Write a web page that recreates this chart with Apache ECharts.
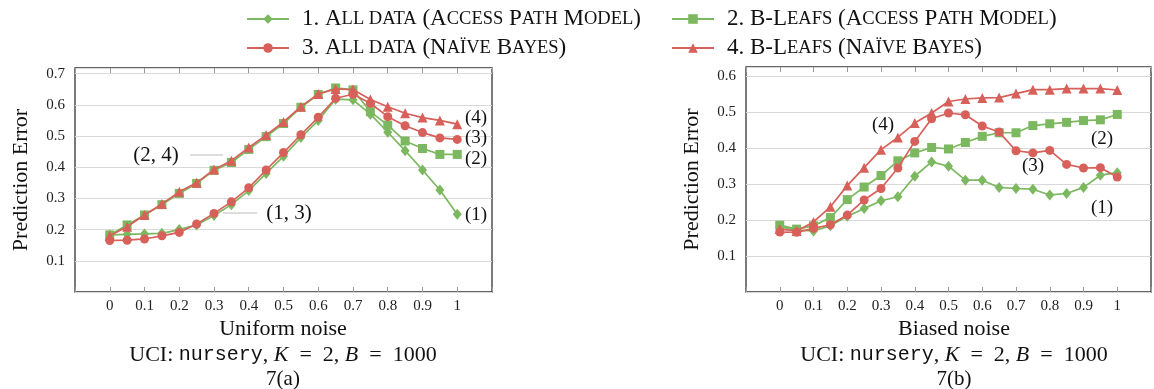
<!DOCTYPE html>
<html>
<head>
<meta charset="utf-8">
<script src="https://cdn.jsdelivr.net/npm/echarts@6/dist/echarts.min.js"></script>
<style>html,body{margin:0;padding:0;background:#fff}#c{width:1154px;height:389px}</style>
</head>
<body>
<div id="c"></div>
<script>
// ---- data ----
const noise = [0,0.05,0.1,0.15,0.2,0.25,0.3,0.35,0.4,0.45,0.5,0.55,0.6,0.65,0.7,0.75,0.8,0.85,0.9,0.95,1];
const seriesNames = ['1. All data (Access Path Model)','2. B-Leafs (Access Path Model)','3. All data (Naïve Bayes)','4. B-Leafs (Naïve Bayes)'];
// Fig 7(a) Uniform noise
const uniAllAPM  = [0.183,0.185,0.186,0.188,0.2,0.215,0.245,0.28,0.325,0.38,0.435,0.495,0.55,0.618,0.616,0.57,0.512,0.453,0.391,0.327,0.249];
const uniLeafAPM = [0.183,0.215,0.247,0.28,0.316,0.348,0.39,0.415,0.457,0.498,0.54,0.592,0.633,0.654,0.648,0.578,0.535,0.484,0.46,0.441,0.441];
const uniAllNB   = [0.165,0.166,0.17,0.18,0.191,0.218,0.252,0.289,0.334,0.391,0.447,0.504,0.56,0.621,0.634,0.605,0.562,0.533,0.511,0.494,0.489];
const uniLeafNB  = [0.18,0.209,0.247,0.282,0.321,0.35,0.393,0.421,0.463,0.503,0.545,0.594,0.635,0.651,0.649,0.617,0.594,0.573,0.559,0.55,0.538];
// Fig 7(b) Biased noise
const biaAllAPM  = [0.182,0.172,0.17,0.184,0.211,0.232,0.254,0.265,0.322,0.362,0.35,0.311,0.311,0.291,0.288,0.286,0.27,0.274,0.291,0.325,0.332];
const biaLeafAPM = [0.186,0.175,0.184,0.207,0.257,0.292,0.324,0.365,0.387,0.402,0.398,0.416,0.433,0.443,0.443,0.463,0.468,0.472,0.477,0.479,0.494];
const biaAllNB   = [0.167,0.166,0.177,0.187,0.214,0.256,0.288,0.345,0.419,0.482,0.498,0.493,0.462,0.445,0.393,0.387,0.394,0.355,0.345,0.346,0.32];
const biaLeafNB  = [0.175,0.17,0.195,0.237,0.296,0.346,0.396,0.43,0.47,0.498,0.53,0.537,0.54,0.541,0.552,0.563,0.563,0.566,0.566,0.566,0.562];
const xTicks = [0,0.1,0.2,0.3,0.4,0.5,0.6,0.7,0.8,0.9,1];

// ---- style ----
const GREEN = '#7cb85f', RED = '#d8605a';
const SERIF = 'Liberation Serif';
const styles = [
  {color: GREEN, symbol: 'diamond', size: [9, 11]},
  {color: GREEN, symbol: 'rect', size: 9},
  {color: RED, symbol: 'circle', size: 9},
  {color: RED, symbol: 'triangle', size: 10}
];
const legendText = {
  '1. All data (Access Path Model)': '{g|}1. A{s|LL DATA} (A{s|CCESS} P{s|ATH} M{s|ODEL})',
  '2. B-Leafs (Access Path Model)': '{g|}2. B-L{s|EAFS} (A{s|CCESS} P{s|ATH} M{s|ODEL})',
  '3. All data (Naïve Bayes)': '{g|}3. A{s|LL DATA} (N{s|AÏVE} B{s|AYES})',
  '4. B-Leafs (Naïve Bayes)': '{g|}4. B-L{s|EAFS} (N{s|AÏVE} B{s|AYES})'
};

const pair = arr => noise.map((x, i) => [x, arr[i]]);
function mkSeries(data, idx, axisIdx) {
  const s = styles[idx];
  return {
    name: seriesNames[idx], type: 'line', data: pair(data),
    xAxisIndex: axisIdx, yAxisIndex: axisIdx,
    symbol: s.symbol, symbolSize: s.size, showSymbol: true,
    lineStyle: {color: s.color, width: 1.7},
    itemStyle: {color: s.color},
    animation: false, z: 3 + idx
  };
}
const isTick = v => Math.abs(v * 10 - Math.round(v * 10)) < 1e-6;
function xAxisCfg(grid, pos, labels) {
  return {
    type: 'value', gridIndex: grid, position: pos, min: -0.1, max: 1.1, interval: 0.1,
    axisLine: {show: false},
    axisTick: {show: true, inside: true, length: 5, lineStyle: {color: '#999'}},
    axisLabel: {show: labels, margin: 7, fontFamily: SERIF, fontSize: 15, color: '#222',
      formatter: v => (v < -1e-6 || v > 1 + 1e-6 || !isTick(v)) ? '' : (Math.round(v * 10) / 10).toString()},
    splitLine: {show: false}
  };
}
function yAxisCfg(grid, max) {
  return {
    type: 'value', gridIndex: grid, min: 0, max: max, interval: 0.1,
    name: 'Prediction Error', nameLocation: 'middle', nameGap: 43,
    nameTextStyle: {fontFamily: SERIF, fontSize: 22, color: '#111'},
    axisLine: {show: false},
    axisTick: {show: false},
    axisLabel: {margin: 10, fontFamily: SERIF, fontSize: 15, color: '#222',
      formatter: v => (v < 1e-6 || !isTick(v)) ? '' : v.toFixed(1)},
    splitLine: {show: true, lineStyle: {color: '#d9d9d9', width: 1}}
  };
}
const legPos = [[246, 7], [671, 7], [246, 36], [671, 36]];
const legends = seriesNames.map((n, i) => ({
  data: [n], left: legPos[i][0], top: legPos[i][1], orient: 'horizontal',
  itemWidth: 42, itemHeight: 12, itemGap: 6, padding: 0,
  formatter: name => legendText[name],
  textStyle: {fontFamily: SERIF, fontSize: 23, lineHeight: 24, color: '#111',
    rich: {s: {fontFamily: SERIF, fontSize: 18.5, color: '#111'}, g: {width: 8}}}
}));

function txt(x, y, text, size, extra) {
  return Object.assign({type: 'text', x: x, y: y, style: {text: text, fontFamily: SERIF, fontSize: size || 18, fill: '#111', align: 'center', verticalAlign: 'middle'}, z: 10}, extra || {});
}
function caption(cx, title, sub) {
  return [
    txt(cx, 329, title, 22),
    {type: 'text', x: cx, y: 355, z: 10, style: {
      text: 'UCI: {m|nursery}, {i|K}  =  2, {i|B}  =  1000', fontFamily: SERIF, fontSize: 22, fill: '#111',
      align: 'center', verticalAlign: 'middle',
      rich: {m: {fontFamily: 'Liberation Mono', fontSize: 20, fill: '#111'}, i: {fontFamily: SERIF, fontStyle: 'italic', fontSize: 22, fill: '#111'}}}},
    txt(cx, 379, sub, 21)
  ];
}
const graphics = [].concat(
  caption(283, 'Uniform noise', '7(a)'),
  caption(954, 'Biased noise', '7(b)'),
  [
    txt(156, 155, '(2, 4)', 21),
    {type: 'line', shape: {x1: 190, y1: 155, x2: 223, y2: 155}, style: {stroke: '#bbb', lineWidth: 1}, z: 10},
    txt(289, 213, '(1, 3)', 21),
    {type: 'line', shape: {x1: 223, y1: 213, x2: 257, y2: 213}, style: {stroke: '#bbb', lineWidth: 1}, z: 10},
    txt(476, 118, '(4)', 19), txt(476, 138, '(3)', 19), txt(476, 159, '(2)', 19), txt(476, 215, '(1)', 19),
    txt(883, 125, '(4)', 19), txt(1102, 139, '(2)', 19), txt(1033, 166, '(3)', 19), txt(1102, 208, '(1)', 19)
  ]
);

const chart = echarts.init(document.getElementById('c'), null, {renderer: 'canvas'});
chart.setOption({
  animation: false,
  backgroundColor: '#fff',
  legend: legends,
  grid: [
    {left: 75, top: 68, width: 417, height: 224, show: true, borderColor: '#333', borderWidth: 1.3, backgroundColor: 'transparent'},
    {left: 746, top: 67, width: 417, height: 225, show: true, borderColor: '#333', borderWidth: 1.3, backgroundColor: 'transparent'}
  ],
  xAxis: [xAxisCfg(0, 'bottom', true), xAxisCfg(1, 'bottom', true), xAxisCfg(0, 'top', false), xAxisCfg(1, 'top', false)],
  yAxis: [yAxisCfg(0, 0.718), yAxisCfg(1, 0.626)],
  series: [
    mkSeries(uniAllAPM, 0, 0), mkSeries(uniLeafAPM, 1, 0), mkSeries(uniAllNB, 2, 0), mkSeries(uniLeafNB, 3, 0),
    mkSeries(biaAllAPM, 0, 1), mkSeries(biaLeafAPM, 1, 1), mkSeries(biaAllNB, 2, 1), mkSeries(biaLeafNB, 3, 1)
  ],
  graphic: graphics
});
</script>
</body>
</html>
